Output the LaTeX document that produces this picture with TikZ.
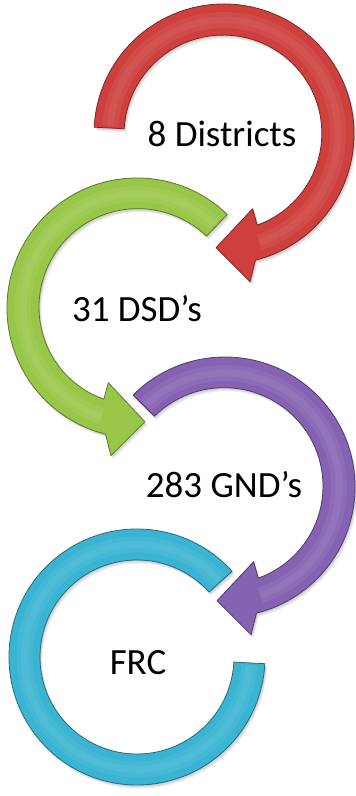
\documentclass[tikz,border=0pt]{standalone}
\usepackage{fontspec}
\setmainfont{Carlito}
\definecolor{ared}{RGB}{206,64,62}
\definecolor{agreen}{RGB}{152,198,72}
\definecolor{apurple}{RGB}{134,98,178}
\definecolor{acyan}{RGB}{58,180,210}
\tikzset{
  ring/.style={fill=#1, draw=#1!60!black, line width=0.8pt, line join=round},
  shade/.style={fill=black, opacity=0.07, draw=none},
  shine/.style={draw=#1!50!white, line width=16pt, opacity=0.12, line cap=butt},
  shinein/.style={draw=#1!50!white, line width=7pt, opacity=0.12, line cap=butt},
  txt/.style={font=\fontsize{37}{40}\selectfont, anchor=base, inner sep=0pt}
}
% clockwise circular arrow, tail at angle #1
\newcommand{\cwpath}[1]{(#1:130) arc[start angle=#1,end angle=-76,radius=130pt]
  -- (-80:150) -- (-94:114) -- (-69:80) -- (-70:97)
  -- plot[domain=-70:#1,samples=60] (\x:{97+3*(\x+70)/(#1+70)}) -- cycle}
% counter-clockwise circular arrow, tail at angle #1
\newcommand{\ccwpath}[1]{(#1:130) arc[start angle=#1,end angle=256,radius=130pt]
  -- (260:150) -- (274:114) -- (249:80) -- (250:97)
  -- plot[domain=250:#1,samples=60] (\x:{97+3*(250-\x)/(250-#1)}) -- cycle}
\newcommand{\ringpath}{(42:128) arc[start angle=42,end angle=357,radius=128pt]
  -- (357:97) arc[start angle=357,end angle=42,radius=97pt] -- cycle}
\begin{document}
\begin{tikzpicture}[x=1pt,y=1pt]
\useasboundingbox (0,0) rectangle (356,796);
\fill[white] (0,0) rectangle (356,796);

% cyan ring (FRC)
\begin{scope}[shift={(137,139)}]
  \foreach \d in {1,2,3} {\fill[shade, shift={(\d*0.8,-\d*1.2)}] \ringpath;}
  \path[ring=acyan] \ringpath;
  \draw[shine=acyan] (43:112.5) arc[start angle=43,end angle=356,radius=112.5pt];
  \draw[shinein=acyan] (43:112.5) arc[start angle=43,end angle=356,radius=112.5pt];
\end{scope}

% purple arrow (283 GND's)
\begin{scope}[shift={(225,309)}]
  \foreach \d in {1,2,3} {\fill[shade, shift={(\d*0.8,-\d*1.2)}] \cwpath{135};}
  \path[ring=apurple] \cwpath{135};
  \draw[shine=apurple] (134:114) arc[start angle=134,end angle=-72,radius=114pt];
  \draw[shinein=apurple] (134:114) arc[start angle=134,end angle=-72,radius=114pt];
\end{scope}

% green arrow (31 DSD's)
\begin{scope}[shift={(137,488)}]
  \foreach \d in {1,2,3} {\fill[shade, shift={(\d*0.8,-\d*1.2)}] \ccwpath{46};}
  \path[ring=agreen] \ccwpath{46};
  \draw[shine=agreen] (47:114) arc[start angle=47,end angle=252,radius=114pt];
  \draw[shinein=agreen] (47:114) arc[start angle=47,end angle=252,radius=114pt];
\end{scope}

% red arrow (8 Districts)
\begin{scope}[shift={(224,662)}]
  \foreach \d in {1,2,3} {\fill[shade, shift={(\d*0.8,-\d*1.2)}] \cwpath{177};}
  \path[ring=ared] \cwpath{177};
  \draw[shine=ared] (176:114) arc[start angle=176,end angle=-72,radius=114pt];
  \draw[shinein=ared] (176:114) arc[start angle=176,end angle=-72,radius=114pt];
\end{scope}

\node[txt] (t1) at (222,649) {8 Districts};
\node[txt] (t2) at (137,474) {31 DSD’s};
\node[txt] (t3) at (224,298) {283 GND’s};
\node[txt] (t4) at (138,121) {FRC};
\end{tikzpicture}
\end{document}
